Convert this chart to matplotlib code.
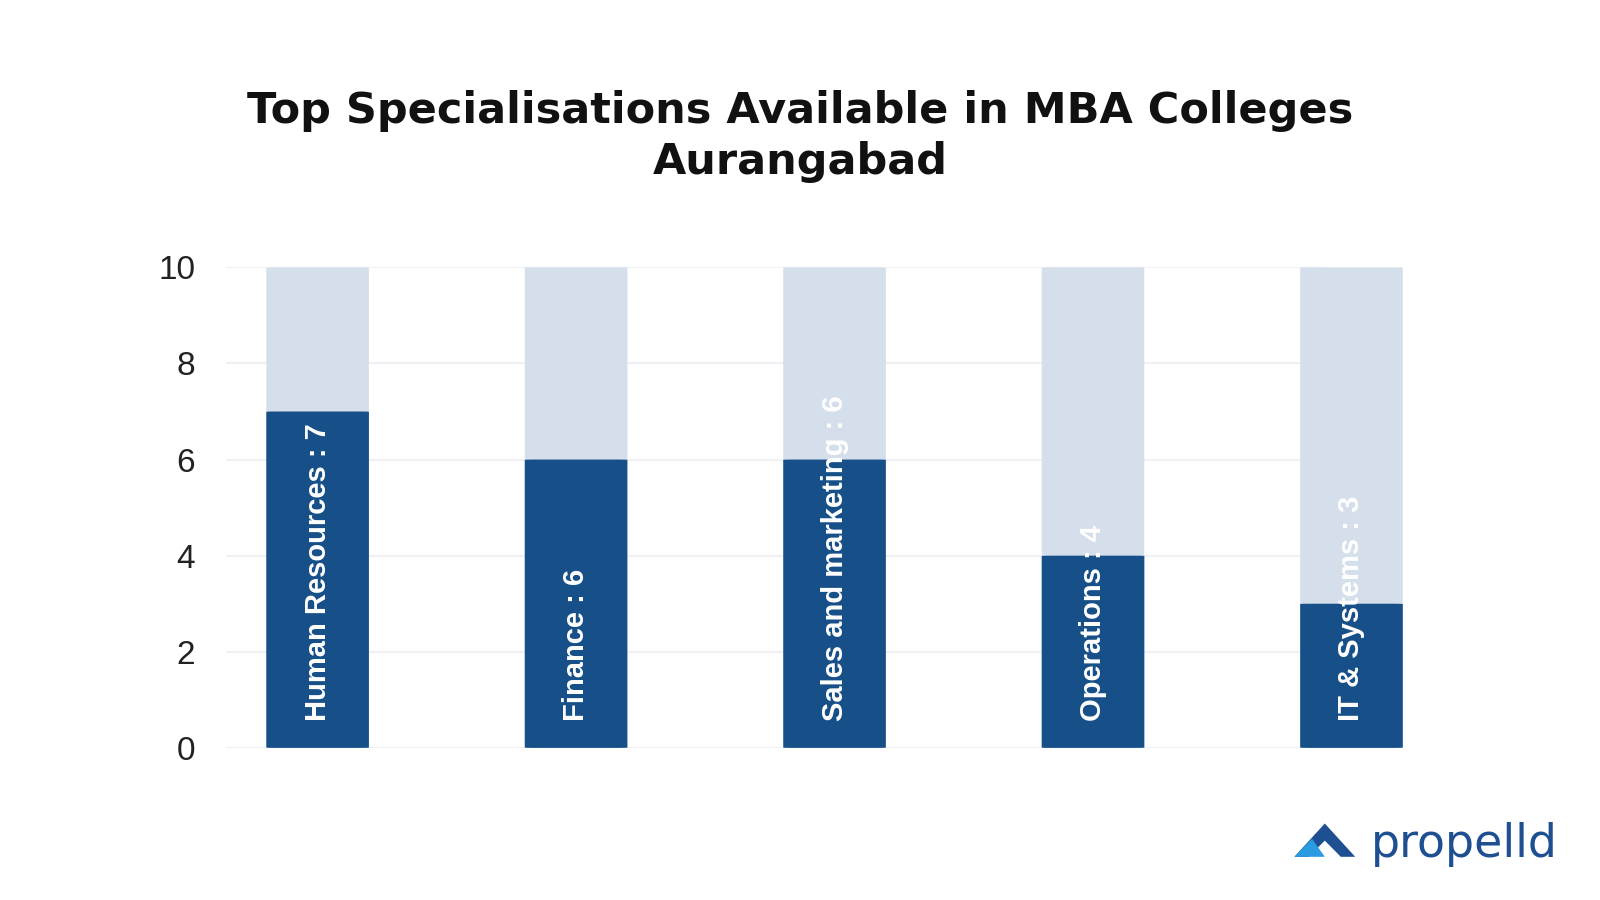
import matplotlib
matplotlib.use("Agg")
import matplotlib.pyplot as plt
from matplotlib.patches import FancyBboxPatch, Polygon

categories = ["Human Resources", "Finance", "Sales and marketing", "Operations", "IT & Systems"]
values = [7, 6, 6, 4, 3]
max_value = 10
yticks = [0, 2, 4, 6, 8, 10]

plt.rcParams["font.family"] = ["Liberation Sans", "DejaVu Sans"]
fig = plt.figure(figsize=(16, 9), dpi=100)
fig.patch.set_facecolor("white")
ax = fig.add_axes([0.141, 0.169, 0.746, 0.534])
ax.set_xlim(-0.356, 4.262)
ax.set_ylim(0, max_value)
for s in ax.spines.values():
    s.set_visible(False)
ax.set_xticks([])
ax.set_yticks(yticks)
ax.tick_params(axis="y", length=0, labelsize=24, colors="#222222", pad=22)
for t in yticks:
    ax.axhline(t, xmin=0, xmax=0.92, color="#f0f0f4", lw=1.5, zorder=0)

w = 0.397
for i, (c, v) in enumerate(zip(categories, values)):
    for h, col, z in [(max_value, "#d5dfeb", 1), (v, "#175088", 2)]:
        p = FancyBboxPatch((i - w / 2, 0), w, h, boxstyle="round,pad=0,rounding_size=0.035",
                           mutation_aspect=0.19, fc=col, ec="none", zorder=z)
        ax.add_patch(p)
    ax.text(i, 0.55, f"{c} : {v}", rotation=90, ha="center", va="bottom", color="white",
            fontsize=21, fontweight="bold", zorder=3)

fig.text(0.5, 0.877, "Top Specialisations Available in MBA Colleges", ha="center", va="center",
         fontsize=31, fontweight="bold", color="#111111", family=["DejaVu Sans"])
fig.text(0.5, 0.82, "Aurangabad", ha="center", va="center", fontsize=31, fontweight="bold",
         color="#111111", family=["DejaVu Sans"])

# logo
fig.patches.append(Polygon([[0.809, 0.048], [0.828, 0.085], [0.847, 0.048], [0.838, 0.048], [0.828, 0.066], [0.818, 0.048]],
                           closed=True, transform=fig.transFigure, fc="#1d4f91", ec="none"))
fig.patches.append(Polygon([[0.809, 0.048], [0.820, 0.068], [0.828, 0.048]],
                           closed=True, transform=fig.transFigure, fc="#2a9be0", ec="none"))
fig.text(0.857, 0.062, "propelld", ha="left", va="center", fontsize=33, color="#1d4f91",
         family=["DejaVu Sans"])

fig.savefig("out.png", dpi=100, facecolor="white")
